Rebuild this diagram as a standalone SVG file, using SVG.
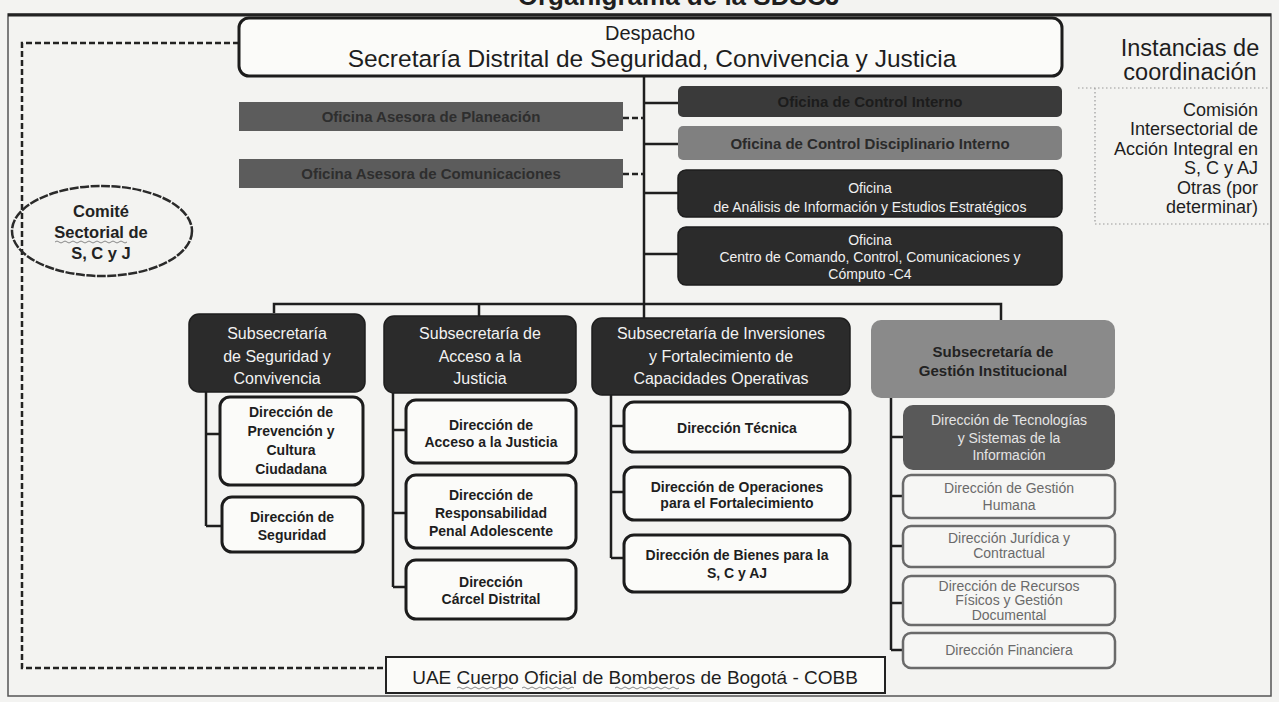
<svg xmlns="http://www.w3.org/2000/svg" width="1279" height="702" viewBox="0 0 1279 702">
<defs>
<style>
text{font-family:"Liberation Sans",Arial,sans-serif;text-anchor:middle}
.dark{fill:#2b2b2b;stroke:#1e1e1e;stroke-width:1.5}
.wt{fill:#f2f2f2;font-size:16px}
.wt14{fill:#f0f0f0;font-size:14px}
.dir{fill:#fbfbf9;stroke:#1c1c1c;stroke-width:3}
.dt{fill:#1e1e1e;font-size:14px;font-weight:bold}
.gdir{fill:#f6f6f4;stroke:#6a6a6a;stroke-width:2.5}
.gt{fill:#6a6a6a;font-size:14px}
.ln{stroke:#1e1e1e;stroke-width:2.5;fill:none}
.dash{stroke:#222;stroke-width:2.5;fill:none;stroke-dasharray:6 3}
.dot{stroke:#999;stroke-width:1.2;fill:none;stroke-dasharray:1.5 2.5}
.sq{stroke:#888;stroke-width:1;fill:none}
.inst{fill:#1e1e1e;font-size:18px;text-anchor:end}
</style>
</defs>
<rect x="0" y="0" width="1279" height="702" fill="#f3f3f1"/>
<text x="840" y="5" style="font-size:26px;font-weight:bold;text-anchor:end" fill="#1e1e1e">Organigrama de la SDSCJ</text>
<rect x="8" y="14" width="1263" height="682" fill="none" stroke="#555" stroke-width="1.5"/>
<line x1="8" y1="15" x2="1271" y2="15" stroke="#222" stroke-width="3"/>

<g id="connectors">
<path class="dash" d="M239,43 H22 V668 H386"/>
<path class="ln" d="M644,76 V318"/>
<path class="ln" d="M274,313 V304 H1001 V320"/>
<path class="ln" d="M479,304 V316"/>
<path class="ln" d="M644,103 H678 M644,144 H678 M644,193 H678 M644,254 H678"/>
<path class="dash" d="M623,118 H644 M623,174 H644"/>
<path class="ln" d="M206,392 V526 M206,434 H220 M206,526 H222"/>
<path class="ln" d="M393,393 V587 M393,430 H406 M393,513 H406 M393,587 H406"/>
<path class="ln" d="M611,395 V558 M611,426 H624 M611,492 H624 M611,558 H624"/>
<path class="ln" d="M891,398 V650 M891,437 H903 M891,496 H903 M891,546 H903 M891,603 H903 M891,650 H903"/>
</g>

<g id="despacho">
<rect x="239" y="18" width="823" height="58" rx="10" fill="#fbfbf9" stroke="#1c1c1c" stroke-width="3"/>
<text x="650" y="40" style="font-size:20px" fill="#1e1e1e">Despacho</text>
<text x="652" y="67" style="font-size:24.5px" fill="#1e1e1e">Secretaría Distrital de Seguridad, Convivencia y Justicia</text>
</g>

<g id="instancias">
<text x="1190" y="56" style="font-size:23.5px" fill="#1e1e1e">Instancias de</text>
<text x="1190" y="80" style="font-size:23.5px" fill="#1e1e1e">coordinación</text>
<path class="dot" d="M1078,88 H1270 M1095,88 V224 H1270"/>
<text class="inst" x="1258" y="116">Comisión</text>
<text class="inst" x="1258" y="135">Intersectorial de</text>
<text class="inst" x="1258" y="155">Acción Integral en</text>
<text class="inst" x="1258" y="174">S, C y AJ</text>
<text class="inst" x="1258" y="194">Otras (por</text>
<text class="inst" x="1258" y="213">determinar)</text>
</g>

<g id="comite">
<ellipse cx="102" cy="231" rx="90" ry="45" fill="none" stroke="#2a2a2a" stroke-width="2.5" stroke-dasharray="9 1.5"/>
<text x="101" y="217" style="font-size:16.5px;font-weight:bold" fill="#222">Comité</text>
<text x="101" y="238" style="font-size:16.5px;font-weight:bold" fill="#222">Sectorial de</text>
<text x="101" y="259" style="font-size:16.5px;font-weight:bold" fill="#222">S, C y J</text>
<path class="sq" d="M55,242 q2,-2 4,0 t4,0 t4,0 t4,0 t4,0 t4,0 t4,0 t4,0 t4,0 t4,0 t4,0 t4,0 t4,0 t4,0 t4,0 t4,0 t4,0 t4,0"/>
</g>

<g id="of-planeacion">
<rect x="239" y="102" width="384" height="29" fill="#5c5c5c"/>
<text x="431" y="122" style="font-size:15px;font-weight:bold" fill="#2e2e2e">Oficina Asesora de Planeación</text>
</g>
<g id="of-comunicaciones">
<rect x="239" y="159" width="384" height="29" fill="#5c5c5c"/>
<text x="431" y="179" style="font-size:15px;font-weight:bold" fill="#2e2e2e">Oficina Asesora de Comunicaciones</text>
</g>

<g id="of-control-interno">
<rect x="678" y="86" width="384" height="31" rx="5" fill="#3a3a3a"/>
<text x="870" y="107" style="font-size:15px;font-weight:bold" fill="#1c1c1c">Oficina de Control Interno</text>
</g>
<g id="of-disciplinario">
<rect x="678" y="126" width="384" height="34" rx="5" fill="#808080"/>
<text x="870" y="149" style="font-size:15px;font-weight:bold" fill="#2a2a2a">Oficina de Control Disciplinario Interno</text>
</g>
<g id="of-analisis">
<rect x="678" y="170" width="384" height="47" rx="8" class="dark"/>
<text class="wt14" x="870" y="193">Oficina</text>
<text class="wt14" x="870" y="212">de Análisis de Información y Estudios Estratégicos</text>
</g>
<g id="of-c4">
<rect x="678" y="227" width="384" height="58" rx="8" class="dark"/>
<text class="wt14" x="870" y="245">Oficina</text>
<text class="wt14" x="870" y="262">Centro de Comando, Control, Comunicaciones y</text>
<text class="wt14" x="870" y="279">Cómputo -C4</text>
</g>

<g id="sub-seguridad">
<rect x="189" y="314" width="176" height="78" rx="10" class="dark"/>
<text class="wt" x="277" y="339">Subsecretaría</text>
<text class="wt" x="277" y="362">de Seguridad y</text>
<text class="wt" x="277" y="384">Convivencia</text>
</g>
<g id="sub-justicia">
<rect x="384" y="316" width="192" height="77" rx="10" class="dark"/>
<text class="wt" x="480" y="339">Subsecretaría de</text>
<text class="wt" x="480" y="362">Acceso a la</text>
<text class="wt" x="480" y="384">Justicia</text>
</g>
<g id="sub-inversiones">
<rect x="592" y="318" width="258" height="77" rx="10" class="dark"/>
<text class="wt" x="721" y="339">Subsecretaría de Inversiones</text>
<text class="wt" x="721" y="362">y Fortalecimiento de</text>
<text class="wt" x="721" y="384">Capacidades Operativas</text>
</g>
<g id="sub-gestion">
<rect x="871" y="320" width="244" height="78" rx="10" fill="#8a8a8a"/>
<text x="993" y="357" style="font-size:15px;font-weight:bold" fill="#222">Subsecretaría de</text>
<text x="993" y="376" style="font-size:15px;font-weight:bold" fill="#222">Gestión Institucional</text>
</g>

<g id="dir-prevencion">
<rect x="220" y="397" width="143" height="88" rx="10" class="dir"/>
<text class="dt" x="291" y="417">Dirección de</text>
<text class="dt" x="291" y="436">Prevención y</text>
<text class="dt" x="291" y="455">Cultura</text>
<text class="dt" x="291" y="474">Ciudadana</text>
</g>
<g id="dir-seguridad">
<rect x="222" y="497" width="141" height="55" rx="10" class="dir"/>
<text class="dt" x="292" y="522">Dirección de</text>
<text class="dt" x="292" y="540">Seguridad</text>
</g>

<g id="dir-acceso">
<rect x="406" y="400" width="170" height="63" rx="10" class="dir"/>
<text class="dt" x="491" y="430">Dirección de</text>
<text class="dt" x="491" y="447">Acceso a la Justicia</text>
</g>
<g id="dir-responsabilidad">
<rect x="406" y="475" width="170" height="73" rx="10" class="dir"/>
<text class="dt" x="491" y="500">Dirección de</text>
<text class="dt" x="491" y="518">Responsabilidad</text>
<text class="dt" x="491" y="536">Penal Adolescente</text>
</g>
<g id="dir-carcel">
<rect x="406" y="560" width="170" height="59" rx="10" class="dir"/>
<text class="dt" x="491" y="587">Dirección</text>
<text class="dt" x="491" y="604">Cárcel Distrital</text>
</g>

<g id="dir-tecnica">
<rect x="624" y="402" width="226" height="50" rx="10" class="dir"/>
<text class="dt" x="737" y="433">Dirección Técnica</text>
</g>
<g id="dir-operaciones">
<rect x="624" y="467" width="226" height="53" rx="10" class="dir"/>
<text class="dt" x="737" y="492">Dirección de Operaciones</text>
<text class="dt" x="737" y="508">para el Fortalecimiento</text>
</g>
<g id="dir-bienes">
<rect x="624" y="535" width="226" height="57" rx="10" class="dir"/>
<text class="dt" x="737" y="560">Dirección de Bienes para la</text>
<text class="dt" x="737" y="578">S, C y AJ</text>
</g>

<g id="dir-tecnologias">
<rect x="903" y="405" width="212" height="65" rx="10" fill="#595959"/>
<text class="gt" x="1009" y="425" style="fill:#e4e4e4">Dirección de Tecnologías</text>
<text class="gt" x="1009" y="443" style="fill:#e4e4e4">y Sistemas de la</text>
<text class="gt" x="1009" y="460" style="fill:#e4e4e4">Información</text>
</g>
<g id="dir-humana">
<rect x="903" y="475" width="212" height="43" rx="8" class="gdir"/>
<text class="gt" x="1009" y="493">Dirección de Gestión</text>
<text class="gt" x="1009" y="510">Humana</text>
</g>
<g id="dir-juridica">
<rect x="903" y="526" width="212" height="41" rx="8" class="gdir"/>
<text class="gt" x="1009" y="543">Dirección Jurídica y</text>
<text class="gt" x="1009" y="558">Contractual</text>
</g>
<g id="dir-recursos">
<rect x="903" y="576" width="212" height="49" rx="8" class="gdir"/>
<text class="gt" x="1009" y="591">Dirección de Recursos</text>
<text class="gt" x="1009" y="605">Físicos y Gestión</text>
<text class="gt" x="1009" y="620">Documental</text>
</g>
<g id="dir-financiera">
<rect x="903" y="633" width="212" height="35" rx="8" class="gdir"/>
<text class="gt" x="1009" y="655">Dirección Financiera</text>
</g>

<g id="uae-cobb">
<rect x="386" y="657" width="499" height="36" fill="#fbfbf9" stroke="#222" stroke-width="2"/>
<text x="635" y="684" style="font-size:19px" fill="#1e1e1e">UAE Cuerpo Oficial de Bomberos de Bogotá - COBB</text>
<path class="sq" d="M457,688 q2,-2 4,0 t4,0 t4,0 t4,0 t4,0 t4,0 t4,0 t4,0 t4,0 t4,0 t4,0 t4,0 t4,0 t4,0"/>
<path class="sq" d="M522,688 q2,-2 4,0 t4,0 t4,0 t4,0 t4,0 t4,0 t4,0 t4,0 t4,0 t4,0 t4,0 t4,0 t4,0"/>
<path class="sq" d="M615,688 q2,-2 4,0 t4,0 t4,0 t4,0 t4,0 t4,0 t4,0 t4,0 t4,0 t4,0 t4,0 t4,0 t4,0 t4,0 t4,0 t4,0"/>
</g>
</svg>
